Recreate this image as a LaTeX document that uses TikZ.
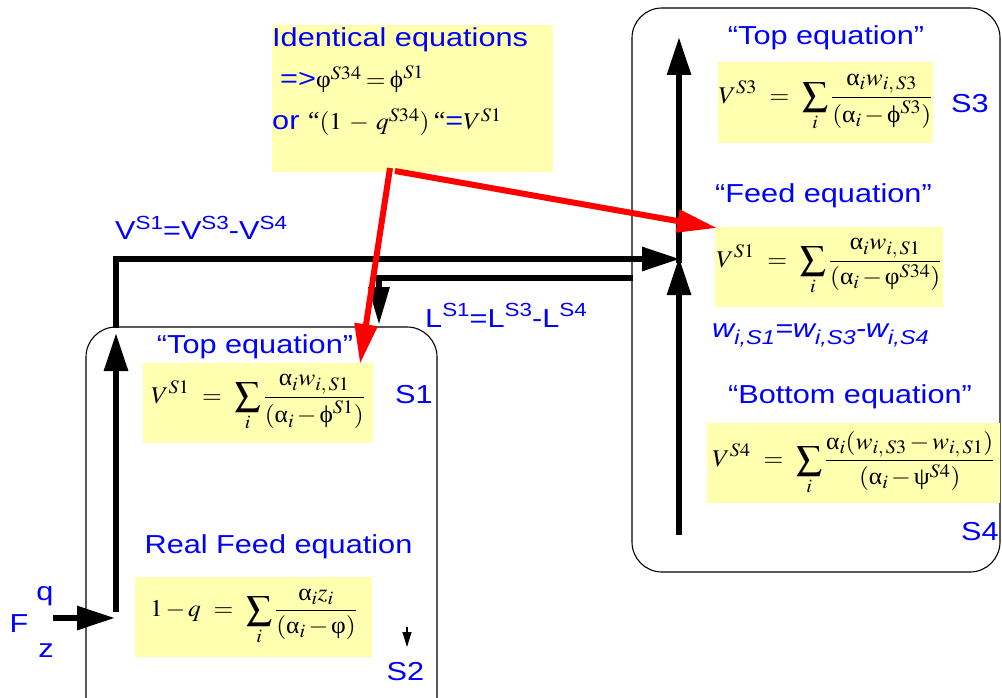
\documentclass[tikz,border=0pt]{standalone}
\usepackage{amsmath}
\usepackage{mathptmx}
\usepackage[no-math]{fontspec}
\setmainfont{Liberation Sans}[FakeStretch=1.18]
\newfontfamily\tms{Liberation Serif}
\usepackage{graphicx}
\usetikzlibrary{arrows.meta}
\DeclareMathSizes{24}{24}{19}{15}
\medmuskip=2mu plus 1mu minus 1mu
\thickmuskip=3mu plus 2mu
\newcommand\mx{1.06}
\newcommand\M[1]{\scalebox{\mx}[1]{$\displaystyle #1$}}
\newcommand\Mt[1]{\scalebox{\mx}[1]{\fontsize{24}{28}\selectfont$#1$}}
\newcommand\ga{\text{\tms α}}
\newcommand\gphi{\text{\tms ϕ}}
\newcommand\gvphi{\text{\tms φ}}
\newcommand\gpsi{\text{\tms ψ}}
\newcommand\sups[1]{\raisebox{0.42em}{\fontsize{19}{19}\selectfont #1}}
\newcommand\subs[1]{\raisebox{-0.3em}{\fontsize{20}{20}\selectfont #1}}
\definecolor{ylw}{RGB}{255,255,176}
\definecolor{bl}{RGB}{0,0,255}
\tikzset{
  thk/.style={line width=6pt, draw=black},
  thkarrow/.style={thk, -{Triangle[length=38pt,width=23pt]}},
  redarrow/.style={line width=6pt, draw=red, fill=red, -{Triangle[length=40pt,width=22pt]}},
  eqbox/.style={fill=ylw, inner sep=0, font=\fontsize{24}{28}\selectfont},
  lbl/.style={text=bl, inner sep=0, font=\fontsize{26}{30}\selectfont},
  region/.style={draw=black, line width=1.1pt, rounded corners=30pt},
}
\begin{document}
\begin{tikzpicture}[x=1pt,y=-1pt]
\useasboundingbox (0,0) rectangle (1002,698);
\clip (0,0) rectangle (1002,698);
% regions
\draw[region] (632,8) rectangle (1000,572);
\draw[region] (86,327) rectangle (437,760);
% identical equations box
\node[eqbox, minimum width=281, minimum height=147] (idbox) at (412.5,98.5) {};
\node[lbl, anchor=base west] (idt) at (272,47) {Identical equations};
\node[lbl, anchor=base west] (idl2) at (280,88) {=>\textcolor{black}{\Mt{\gvphi^{S34} = \gphi^{S1}}}};
\node[lbl, anchor=base west] (idl3) at (272,130) {or {\tms\color{black}“}\textcolor{black}{\Mt{(1\;-\;q^{S34})}}{\tms\color{black}\,“}=\textcolor{black}{\Mt{V^{S1}}}};
% right region
\node[lbl, anchor=base] (t3) at (826,45) {“Top equation”};
\node[eqbox, minimum width=215, minimum height=81] (e3) at (825.5,102.5) {\M{V^{S3} \;\;=\;\; \sum\limits_{i}\frac{\ga_i w_{i,\,S3}}{(\ga_i - \gphi^{S3})}}};
\node[lbl, anchor=base] (s3) at (970,113) {S3};
\node[lbl, anchor=base] (tf) at (823.5,203) {“Feed equation”};
\node[eqbox, minimum width=228, minimum height=80] (ef) at (829,267) {\M{V^{S1} \;\;=\;\; \sum\limits_{i}\frac{\ga_i w_{i,\,S1}}{(\ga_i - \gvphi^{S34})}}};
\node[lbl, anchor=base west] (wl) at (712,337) {\itshape w\subs{i,S1}=w\subs{i,S3}-w\subs{i,S4}};
\node[lbl, anchor=base] (tb) at (850,403) {“Bottom equation”};
\node[eqbox, minimum width=293, minimum height=80] (e4) at (853.5,463) {\M{V^{S4} \;\;=\;\; \sum\limits_{i}\frac{\ga_i(w_{i,\,S3}-w_{i,\,S1})}{(\ga_i - \gpsi^{S4})}}};
\node[lbl, anchor=base] (s4) at (980,540) {S4};
% left region
\node[lbl, anchor=base] (t1) at (255,353) {“Top equation”};
\node[eqbox, minimum width=230, minimum height=80] (e1) at (258,403) {\M{V^{S1} \;\;=\;\; \sum\limits_{i}\frac{\ga_i w_{i,\,S1}}{(\ga_i - \gphi^{S1})}}};
\node[lbl, anchor=base] (s1) at (414,403) {S1};
\node[lbl, anchor=base] (tr) at (278.5,553) {Real Feed equation};
\node[eqbox, minimum width=237, minimum height=80] (er) at (253.5,617) {\M{1-q \;\;=\;\; \sum\limits_{i}\frac{\ga_i z_i}{(\ga_i - \gvphi)}}};
\node[lbl, anchor=base] (s2) at (405.5,680) {S2};
\node[lbl, anchor=base] (F) at (19,632) {F};
\node[lbl, anchor=base] (q) at (45,600) {q};
\node[lbl, anchor=base] (z) at (46,657) {z};
% stream labels
\node[lbl, anchor=base west] (vl) at (115,240) {V\sups{S1}=V\sups{S3}-V\sups{S4}};
\node[lbl, anchor=base west] (ll) at (425,327) {L\sups{S1}=L\sups{S3}-L\sups{S4}};
% coordinates
\coordinate (Jt) at (679,263);
\coordinate (Jb) at (679,257);
\coordinate (top3) at (679,37);
\coordinate (bot4) at (679,535);
\coordinate (vstart) at (116,328);
\coordinate (vcorner) at (116,259);
\coordinate (vend) at (680,259);
\coordinate (colbot) at (116,612);
\coordinate (coltop) at (116,333);
\coordinate (fstart) at (53,618);
\coordinate (fend) at (115,618);
\coordinate (lstart) at (633,278);
\coordinate (lcorner) at (379,278);
\coordinate (lend) at (379,325);
\coordinate (s2a) at (407,627);
\coordinate (s2b) at (407,647);
\coordinate (r1a) at (390,168);
\coordinate (r1b) at (360,364);
\coordinate (r2a) at (395,171);
\coordinate (r2b) at (717,228);
% flows
\draw[thkarrow] (bot4) -- (Jb);
\draw[thkarrow] (Jt) -- (top3);
\draw[thkarrow] (vstart) -- (vcorner) -- (vend);
\draw[thkarrow] (colbot) -- (coltop);
\draw[thkarrow] (fstart) -- (fend);
\draw[thkarrow, -{Triangle[length=38pt,width=20pt]}] (lstart) -- (lcorner) -- (lend);
\draw[line width=1.2pt, -{Triangle[length=15pt,width=9pt]}] (s2a) -- (s2b);
% red arrows
\draw[redarrow] (r1a) -- (r1b);
\draw[redarrow] (r2a) -- (r2b);
\end{tikzpicture}
\end{document}
